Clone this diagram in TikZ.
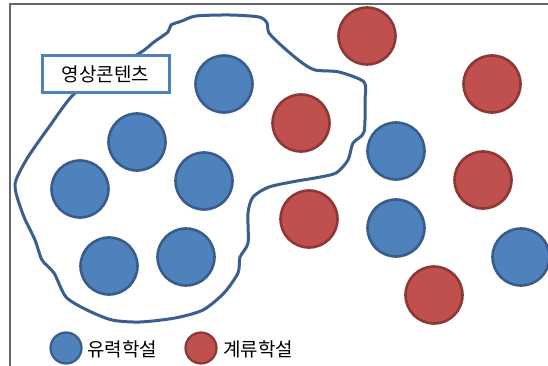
\documentclass[tikz,border=0pt]{standalone}
\usepackage{fontspec}
\newfontfamily\kr{Noto Sans CJK KR}
\definecolor{bfill}{HTML}{4F81BD}
\definecolor{bline}{HTML}{385D8A}
\definecolor{rfill}{HTML}{C0504D}
\definecolor{rline}{HTML}{8C3836}
\definecolor{blob}{HTML}{3A5F8E}
\begin{document}
\begin{tikzpicture}[x=1pt,y=-1pt,
  bdot/.style={circle,fill=bfill,draw=bline,line width=2.6pt,minimum size=57pt,inner sep=0pt},
  rdot/.style={circle,fill=rfill,draw=rline,line width=2.6pt,minimum size=57pt,inner sep=0pt},
  lbdot/.style={circle,fill=bfill,draw=bline,line width=2.2pt,minimum size=31pt,inner sep=0pt},
  lrdot/.style={circle,fill=rfill,draw=rline,line width=2.2pt,minimum size=31pt,inner sep=0pt},
  lbl/.style={font=\kr\fontsize{19}{19}\selectfont,text=black,inner sep=0pt,anchor=west}]
\useasboundingbox (0,0) rectangle (548,366);
\fill[white] (0,0) rectangle (548,366);
% frame
\draw[gray!80!black,line width=1.4pt] (10,366) -- (10,4) -- (548,4);
% blob outline
\draw[blob,line width=3pt,line join=round] plot[smooth cycle,tension=0.45] coordinates {
 (182,21) (196,16) (230,15) (259,17) (267,23) (269,33) (283,47) (301,62) (315,70) (339,72) (364,82)
 (365,100) (364,132) (353,143) (348,160) (336,173) (315,178) (297,181) (269,187) (253,197)
 (248,213) (248,243) (240,257) (238,273) (224,293) (203,310) (175,318) (140,322) (112,320)
 (87,310) (66,297) (54,273) (42,260) (35,240) (24,217) (16,193) (16,180) (28,157) (49,127)
 (73,95) (105,72) (140,53) (154,42) (168,32) (171,25)};
% label box
\node[draw=bfill,fill=white,line width=3pt,minimum width=127pt,minimum height=37pt,inner sep=0pt,
  font=\kr\fontsize{19}{19}\selectfont] (lab) at (105.5,74.5) {영상콘텐츠};
% circles
\node[rdot] (r1) at (367,36) {};
\node[rdot] (r2) at (492,84) {};
\node[bdot] (bA) at (224,84) {};
\node[rdot] (r3) at (301,123) {};
\node[bdot] (bB) at (137,142) {};
\node[bdot] (bC) at (396,151) {};
\node[rdot] (r4) at (483,180) {};
\node[bdot] (bD) at (80,189) {};
\node[bdot] (bE) at (204,181) {};
\node[rdot] (r5) at (309,219) {};
\node[bdot] (bF) at (396,228) {};
\node[bdot] (bG) at (521,257) {};
\node[rdot] (r6) at (434,295) {};
\node[bdot] (bH) at (109,266) {};
\node[bdot] (bI) at (186,257) {};
% legend
\node[lbdot] (lb) at (66,348) {};
\node[lbl] (lbt) at (87,349) {유력학설};
\node[lrdot] (lr) at (201,348) {};
\node[lbl] (lrt) at (223,349) {계류학설};
\end{tikzpicture}
\end{document}
